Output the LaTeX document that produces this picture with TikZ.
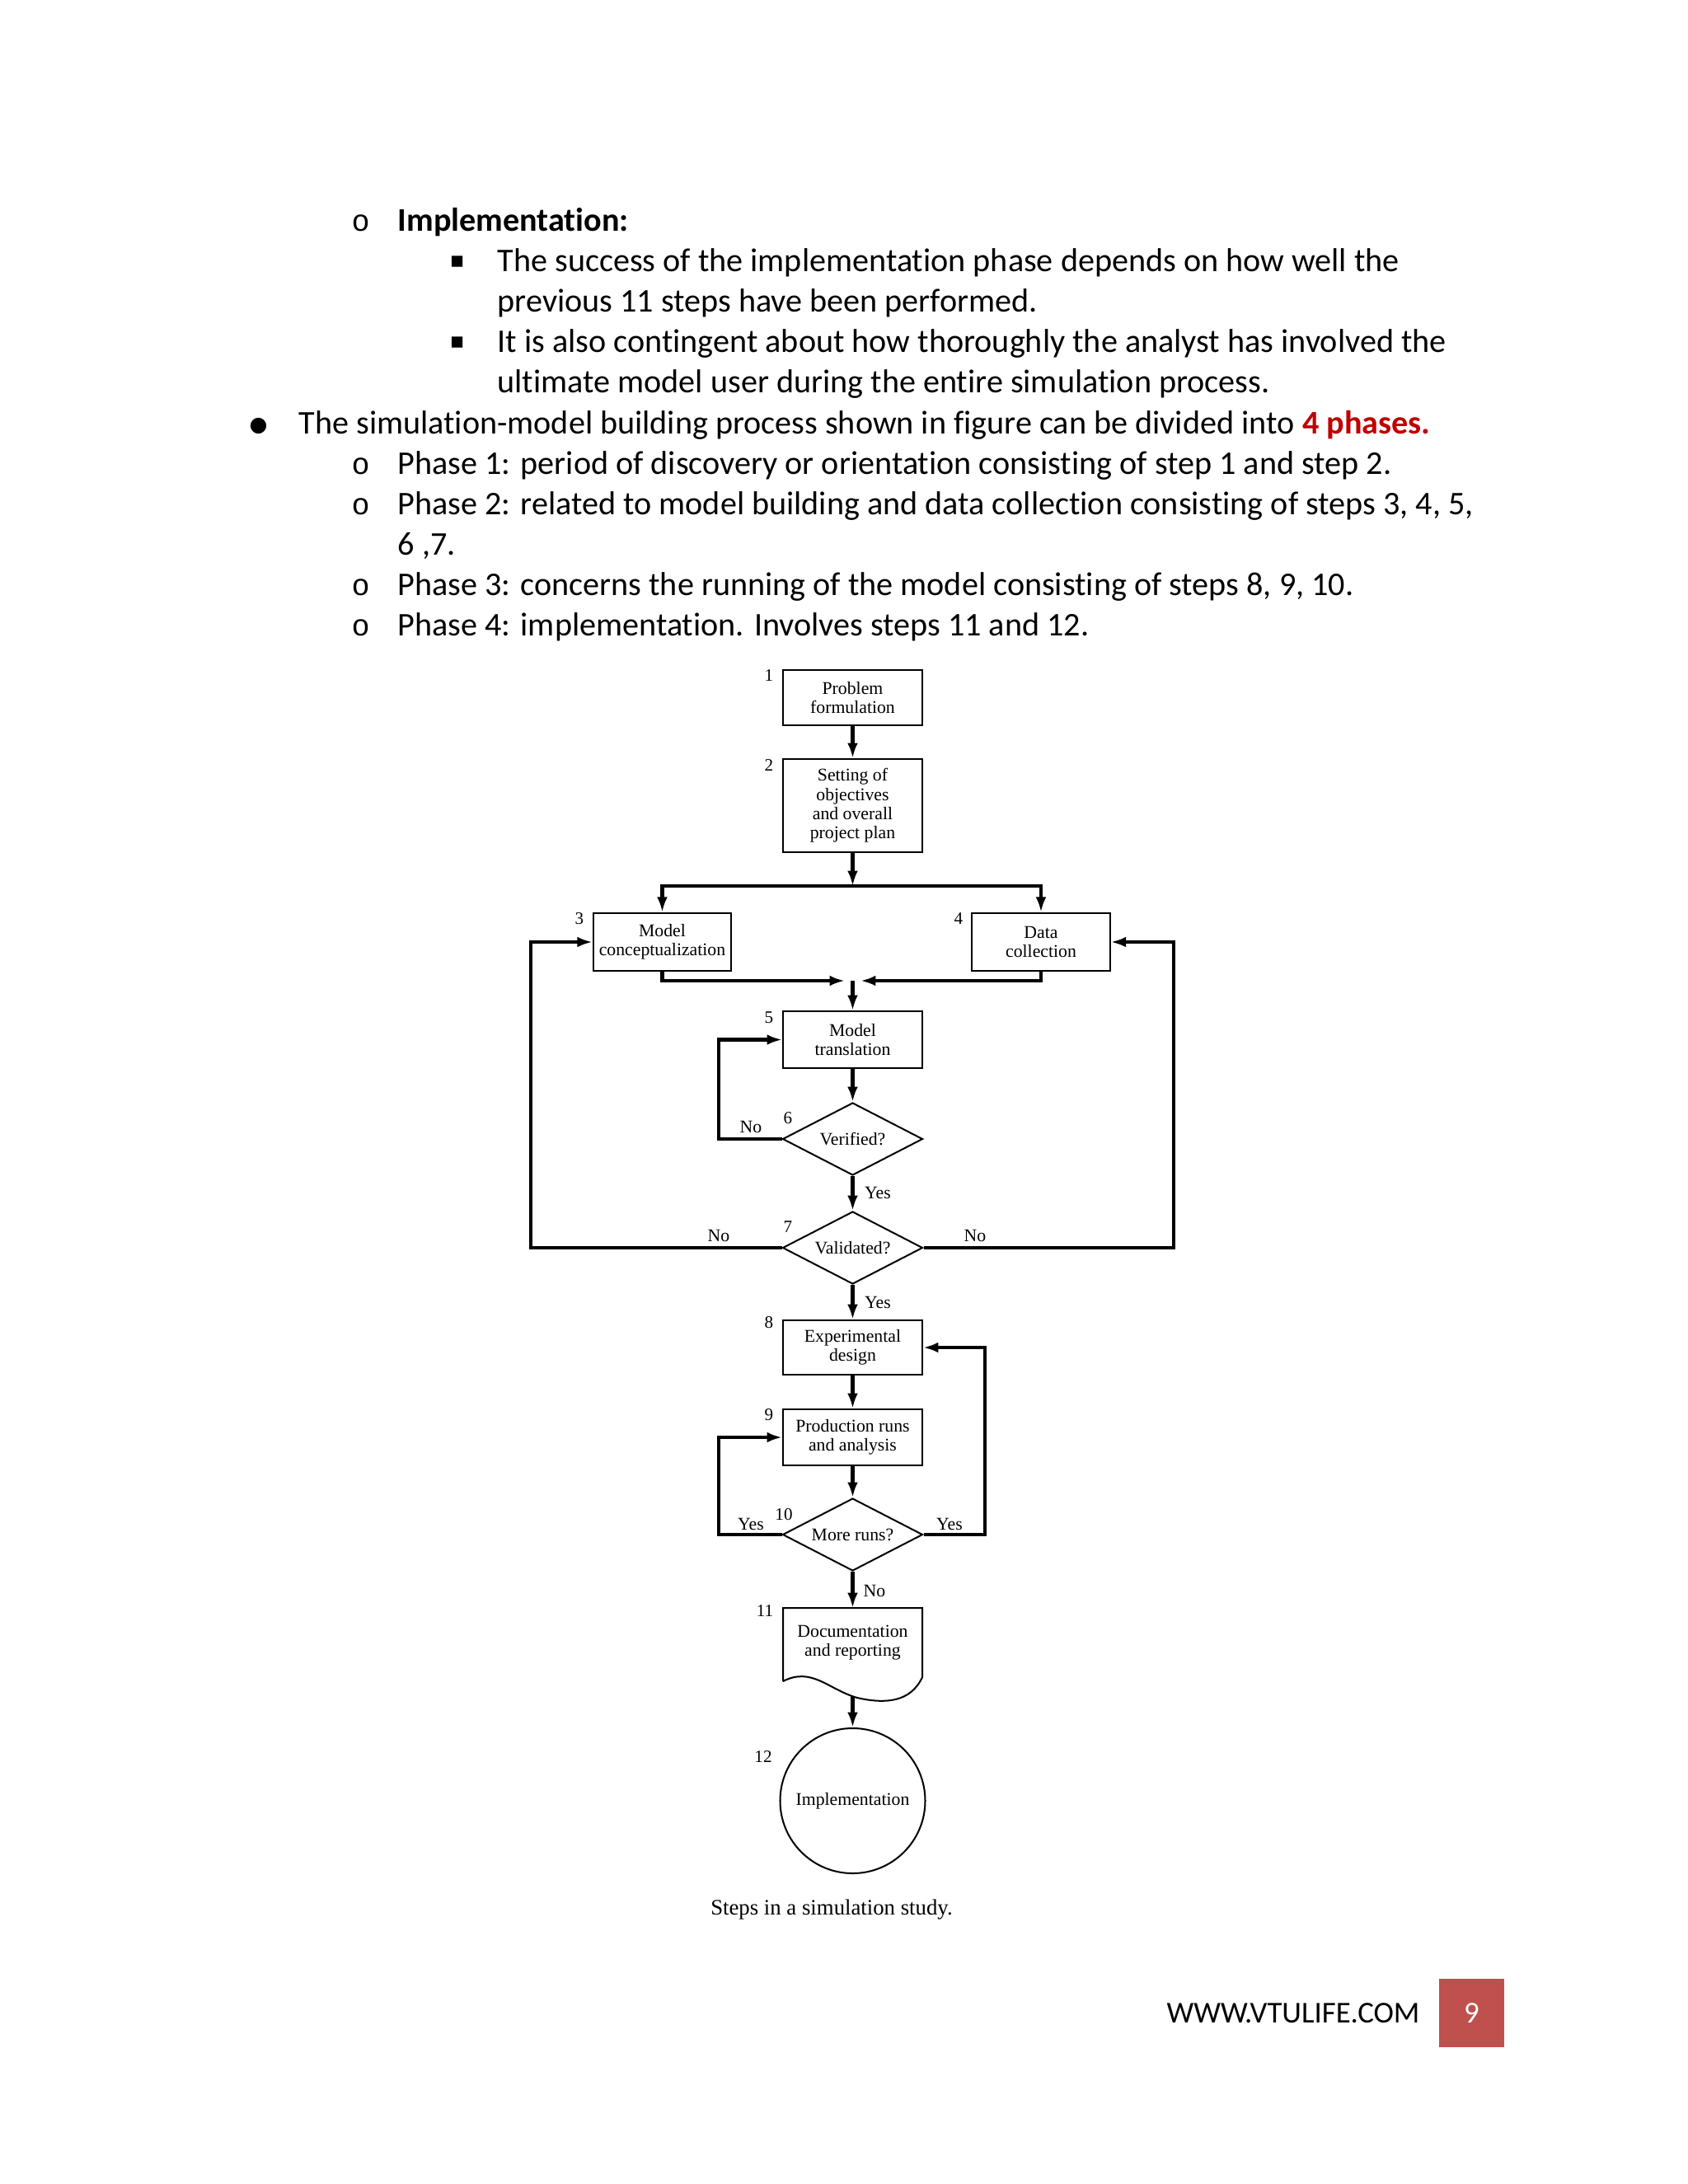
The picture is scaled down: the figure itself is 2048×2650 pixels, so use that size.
\documentclass[tikz,border=0pt]{standalone}
\usepackage{fontspec}
\setmainfont[Ligatures=NoCommon]{Carlito}
\newfontfamily\diag{Liberation Serif}
\newfontfamily\symf{DejaVu Sans}
\newfontfamily\monof{Liberation Mono}
\usetikzlibrary{shapes.geometric,arrows.meta}
\definecolor{phasered}{HTML}{C00000}
\definecolor{pagered}{HTML}{C0504D}
\begin{document}
\begin{tikzpicture}[x=0.29883pt,y=-0.29883pt,
  txt/.style={anchor=base west,inner sep=0,font=\fontsize{12}{14}\selectfont},
  bul/.style={anchor=base west,inner sep=0},
  boxn/.style={draw,line width=0.6pt,align=center,inner sep=1pt,font=\diag\fontsize{6.5}{7}\selectfont,minimum width=50.5pt},
  dia/.style={draw,diamond,line width=0.6pt,inner sep=0pt,aspect=1.93,minimum width=50.8pt,minimum height=26.3pt,font=\diag\fontsize{6.5}{7}\selectfont},
  num/.style={inner sep=0,font=\diag\fontsize{6.3}{7}\selectfont},
  lab/.style={inner sep=0,font=\diag\fontsize{6.5}{7}\selectfont},
  conn/.style={draw,line width=1.4pt,line join=miter,-{Latex[length=5.5pt,width=3.8pt]}},
  wire/.style={draw,line width=1.4pt,line join=miter}]
\useasboundingbox (0,0) rectangle (2048,2650);
\fill[white] (0,0) rectangle (2048,2650);

% ---------- body text ----------
\node[bul,font=\monof\fontsize{11}{13}\selectfont] (o1) at (426,280) {o};
\node[txt,font=\bfseries\fontsize{12}{14}\selectfont] (t1) at (482,280) {Implementation:};
\node[bul,font=\symf\fontsize{8}{11}\selectfont] (s1) at (545,324) {▪};
\node[txt] (t2) at (603,329) {The success of the implementation phase depends on how well the};
\node[txt] (t3) at (603,378) {previous 11 steps have been performed.};
\node[bul,font=\symf\fontsize{8}{11}\selectfont] (s2) at (545,422) {▪};
\node[txt] (t4) at (603,427) {It is also contingent about how thoroughly the analyst has involved the};
\node[txt] (t5) at (603,476) {ultimate model user during the entire simulation process.};
\node[bul,font=\symf\fontsize{7.5}{11}\selectfont] (b0) at (302,523) {●};
\node[txt] (t6) at (362,526) {The simulation-model building process shown in figure can be divided into {\color{phasered}\bfseries 4 phases.}};
\node[bul,font=\monof\fontsize{11}{13}\selectfont] (o2) at (426,575) {o};
\node[txt] (t7) at (482,575) {Phase 1: period of discovery or orientation consisting of step 1 and step 2.};
\node[bul,font=\monof\fontsize{11}{13}\selectfont] (o3) at (426,624) {o};
\node[txt] (t8) at (482,624) {Phase 2: related to model building and data collection consisting of steps 3, 4, 5,};
\node[txt] (t9) at (482,673) {6 ,7.};
\node[bul,font=\monof\fontsize{11}{13}\selectfont] (o4) at (426,722) {o};
\node[txt] (t10) at (482,722) {Phase 3: concerns the running of the model consisting of steps 8, 9, 10.};
\node[bul,font=\monof\fontsize{11}{13}\selectfont] (o5) at (426,771) {o};
\node[txt] (t11) at (482,771) {Phase 4: implementation. Involves steps 11 and 12.};

% ---------- flowchart nodes ----------
\node[boxn,minimum height=20pt] (b1) at (1034.5,846.5) {Problem\\formulation};
\node[boxn,minimum height=33.8pt] (b2) at (1034.5,977.5) {Setting of\\objectives\\and overall\\project plan};
\node[boxn,minimum width=50pt,minimum height=21pt] (b3) at (803.5,1143) {Model\\conceptualization};
\node[boxn,minimum width=50pt,minimum height=21pt] (b4) at (1263,1143) {Data\\collection};
\node[boxn,minimum height=20.6pt] (b5) at (1034.5,1261.5) {Model\\translation};
\node[dia] (d6) at (1034.5,1382) {Verified?};
\node[dia] (d7) at (1034.5,1514) {Validated?};
\node[boxn,minimum height=19.7pt] (b8) at (1034.5,1635) {Experimental\\design};
\node[boxn,minimum height=20.3pt] (b9) at (1034.5,1744) {Production runs\\and analysis};
\node[dia] (d10) at (1034.5,1862) {More runs?};
\draw[line width=0.6pt] (950,2040) -- (950,1951) -- (1119,1951) -- (1119,2035)
  .. controls (1105,2065) and (1075,2068) .. (1040,2060)
  .. controls (1005,2050) and (985,2022) .. (950,2040);
\node[inner sep=0,align=center,font=\diag\fontsize{6.5}{7}\selectfont] (b11) at (1034.5,1993) {Documentation\\and reporting};
\coordinate (b11b) at (1034.5,2058);
\node[draw,circle,line width=0.6pt,minimum size=52.6pt,inner sep=0,font=\diag\fontsize{6.5}{7}\selectfont] (b12) at (1034.5,2185) {Implementation};

% step numbers
\node[num] (n1) at (933,820) {1};
\node[num] (n2) at (933,928) {2};
\node[num] (n3) at (703,1115) {3};
\node[num] (n4) at (1163,1115) {4};
\node[num] (n5) at (933,1235) {5};
\node[num] (n6) at (956,1357) {6};
\node[num] (n7) at (956,1489) {7};
\node[num] (n8) at (933,1605) {8};
\node[num] (n9) at (933,1717) {9};
\node[num] (n10) at (951,1838) {10};
\node[num] (n11) at (928,1955) {11};
\node[num] (n12) at (926,2131) {12};

% ---------- connectors ----------
\coordinate (split) at (1034.5,1075);
\coordinate (merge) at (1034.5,1190);
\coordinate (mergeL) at (1025,1190);
\coordinate (mergeR) at (1044,1190);
\coordinate (loopA) at (872,0);
\coordinate (loopL) at (644,0);
\coordinate (loopR) at (1424,0);
\coordinate (loopB) at (1195,0);

\draw[conn] (b1) -- (b2);
\draw[conn] (b2) -- (split);
\draw[conn] (split) -| (b3.north);
\draw[conn] (split) -| (b4.north);
\draw[conn] (b3.south) |- (mergeL);
\draw[conn] (b4.south) |- (mergeR);
\draw[conn] (merge) -- (b5);
\draw[conn] (b5) -- (d6);
\draw[conn] (d6.west) -- (d6.west -| loopA) |- (b5.west);
\draw[conn] (d6) -- (d7);
\draw[conn] (d7.west) -- (d7.west -| loopL) |- (b3.west);
\draw[conn] (d7.east) -- (d7.east -| loopR) |- (b4.east);
\draw[conn] (d7) -- (b8);
\draw[conn] (b8) -- (b9);
\draw[conn] (b9) -- (d10);
\draw[conn] (d10.west) -- (d10.west -| loopA) |- (b9.west);
\draw[conn] (d10.east) -- (d10.east -| loopB) |- (b8.east);
\draw[conn] (d10) -- (b11.north |- 0,1951);
\draw[conn] (b11b) -- (b12);

% branch labels
\node[lab] (l6no) at (911,1367) {No};
\node[lab] (l6yes) at (1065,1447) {Yes};
\node[lab] (l7nol) at (872,1499) {No};
\node[lab] (l7nor) at (1183,1499) {No};
\node[lab] (l7yes) at (1065,1580) {Yes};
\node[lab] (l10yl) at (911,1849) {Yes};
\node[lab] (l10yr) at (1152,1849) {Yes};
\node[lab] (l10no) at (1061,1930) {No};

% caption
\node[inner sep=0,font=\diag\fontsize{8}{9}\selectfont] (cap) at (1009,2317) {Steps in a simulation study.};

% footer
\node[inner sep=0,font=\fontsize{11}{13}\selectfont] (web) at (1569,2443) {WWW.VTULIFE.COM};
\node[fill=pagered,minimum width=23.6pt,minimum height=24.8pt,inner sep=0,text=white,font=\fontsize{11}{13}\selectfont] (pg) at (1785.5,2442.5) {9};
\end{tikzpicture}
\end{document}
